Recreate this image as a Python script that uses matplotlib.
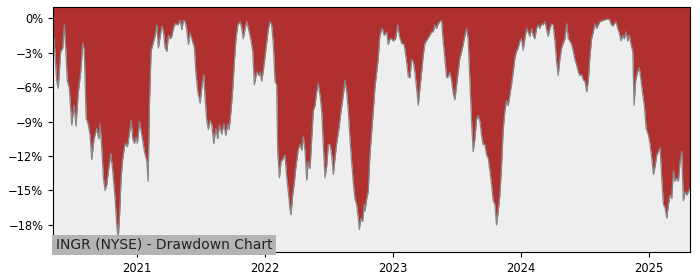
import pandas as pd
import numpy as np
import matplotlib
matplotlib.use("Agg")
import matplotlib.pyplot as plt
import matplotlib.dates as mdates
from matplotlib.ticker import FuncFormatter

# ── Data ────────────────────────────────────────────────────────────────────
# dates as decimal years, drawdown in %
years = [
    2020.344, 2020.352, 2020.373, 2020.385, 2020.404, 2020.420, 2020.432, 2020.443,
    2020.455, 2020.471, 2020.490, 2020.508, 2020.523, 2020.541, 2020.560, 2020.576,
    2020.588, 2020.602, 2020.620, 2020.633, 2020.646, 2020.664, 2020.685, 2020.701,
    2020.711, 2020.724, 2020.737, 2020.750, 2020.763, 2020.776, 2020.795, 2020.810,
    2020.828, 2020.841, 2020.852, 2020.862, 2020.875, 2020.888, 2020.906, 2020.924,
    2020.940, 2020.953, 2020.966, 2020.979, 2020.992, 2021.002, 2021.018, 2021.037,
    2021.057, 2021.076, 2021.086, 2021.096, 2021.109, 2021.127,
    2021.141, 2021.154, 2021.166, 2021.180, 2021.193, 2021.205, 2021.219, 2021.232,
    2021.245, 2021.258, 2021.271, 2021.284, 2021.297, 2021.318, 2021.336, 2021.349,
    2021.362, 2021.375, 2021.388, 2021.401, 2021.414, 2021.427, 2021.448, 2021.459,
    2021.474, 2021.492, 2021.505, 2021.521, 2021.531, 2021.545, 2021.557, 2021.570,
    2021.584, 2021.599, 2021.615, 2021.630, 2021.643, 2021.662, 2021.677, 2021.693,
    2021.709, 2021.719, 2021.734, 2021.748, 2021.760, 2021.773, 2021.787, 2021.805,
    2021.818, 2021.830, 2021.844, 2021.857, 2021.870, 2021.888, 2021.904, 2021.916,
    2021.935, 2021.953,
    2021.961, 2021.974, 2021.992, 2022.008, 2022.026, 2022.039, 2022.052, 2022.065,
    2022.078, 2022.091, 2022.099, 2022.112, 2022.125, 2022.143, 2022.156, 2022.170,
    2022.182, 2022.195, 2022.203, 2022.216, 2022.229, 2022.242, 2022.260, 2022.273,
    2022.287, 2022.299, 2022.313, 2022.326, 2022.338, 2022.352, 2022.365, 2022.377,
    2022.391, 2022.404, 2022.416, 2022.430, 2022.443, 2022.455, 2022.469, 2022.482,
    2022.495, 2022.508, 2022.521, 2022.534, 2022.547, 2022.560, 2022.578, 2022.594,
    2022.612, 2022.625, 2022.638, 2022.651, 2022.664, 2022.677, 2022.690, 2022.703,
    2022.716, 2022.729, 2022.737, 2022.750, 2022.763, 2022.776,
    2022.781, 2022.795, 2022.807, 2022.820, 2022.834, 2022.846, 2022.859, 2022.873,
    2022.885, 2022.898, 2022.916, 2022.932, 2022.951, 2022.963, 2022.977, 2022.990,
    2023.002, 2023.021, 2023.037, 2023.049, 2023.068, 2023.088, 2023.107, 2023.120,
    2023.133, 2023.146, 2023.159, 2023.172, 2023.185, 2023.198, 2023.211, 2023.224,
    2023.237, 2023.250, 2023.271, 2023.289, 2023.302, 2023.315, 2023.328, 2023.341,
    2023.354, 2023.367, 2023.380, 2023.393, 2023.406, 2023.420, 2023.432, 2023.445,
    2023.459, 2023.471, 2023.484, 2023.498, 2023.510, 2023.523, 2023.537, 2023.549,
    2023.563, 2023.576, 2023.588,
    2023.602, 2023.615, 2023.627, 2023.641, 2023.654, 2023.666, 2023.680, 2023.693,
    2023.705, 2023.719, 2023.732, 2023.745, 2023.758, 2023.771, 2023.784, 2023.797,
    2023.810, 2023.823, 2023.836, 2023.849, 2023.862, 2023.875, 2023.888, 2023.901,
    2023.914, 2023.927, 2023.940, 2023.953, 2023.966, 2023.979, 2023.992, 2024.005,
    2024.018, 2024.031, 2024.045, 2024.057, 2024.070, 2024.084, 2024.096, 2024.109,
    2024.123, 2024.135, 2024.148, 2024.162, 2024.174, 2024.188, 2024.201, 2024.213,
    2024.227, 2024.240, 2024.252, 2024.266, 2024.279, 2024.291, 2024.305, 2024.318,
    2024.330, 2024.344, 2024.357, 2024.370, 2024.383, 2024.396, 2024.409, 2024.422,
    2024.435, 2024.448,
    2024.461, 2024.474, 2024.487, 2024.500, 2024.513, 2024.526, 2024.539, 2024.552,
    2024.565, 2024.578, 2024.591, 2024.604, 2024.617, 2024.643, 2024.670, 2024.690,
    2024.703, 2024.716, 2024.729, 2024.742, 2024.755, 2024.768, 2024.781, 2024.795,
    2024.807, 2024.820, 2024.834, 2024.846, 2024.859, 2024.873, 2024.883, 2024.896,
    2024.909, 2024.924, 2024.938, 2024.951, 2024.963, 2024.977, 2024.995, 2025.008,
    2025.021, 2025.034, 2025.047, 2025.060, 2025.073, 2025.086, 2025.099, 2025.112,
    2025.125, 2025.138, 2025.151, 2025.164, 2025.177, 2025.190, 2025.203, 2025.216,
    2025.229, 2025.242, 2025.255, 2025.268, 2025.281, 2025.295, 2025.307, 2025.320,
]

drawdown = [
    -1.6, -1.8, -5.5, -6.1, -2.9, -2.6, -0.6, -2.6,
    -5.4, -6.1, -9.3, -7.6, -9.4, -6.5, -4.7, -2.2,
    -2.8, -8.7, -9.3, -10.2, -12.3, -10.5, -9.6, -10.5,
    -9.2, -11.3, -13.9, -15.0, -14.5, -13.3, -11.8, -13.3,
    -15.7, -18.0, -19.2, -17.4, -13.9, -12.2, -10.9, -11.2,
    -10.0, -8.9, -10.5, -10.9, -10.4, -10.9, -9.0, -10.2,
    -11.6, -12.5, -14.2, -7.6, -2.9, -2.1,
    -1.5, -0.6, -2.6, -1.6, -0.7, -1.1, -2.6, -2.9,
    -1.5, -1.8, -1.6, -0.9, -0.5, -0.6, -0.2, -1.0,
    -0.2, -0.3, -1.0, -2.3, -1.3, -1.8, -2.6, -4.7,
    -6.4, -7.4, -6.1, -4.9, -6.9, -9.0, -9.7, -8.9,
    -9.3, -10.9, -9.6, -10.5, -9.3, -10.1, -9.2, -10.2,
    -9.2, -9.7, -8.1, -6.1, -3.8, -1.8, -0.6, -0.3,
    -0.9, -1.8, -0.9, -0.3, -0.9, -1.8, -2.9, -5.8,
    -4.7, -5.0,
    -4.7, -5.5, -4.1, -2.6, -0.9, -0.3, -0.6, -2.3,
    -5.5, -5.8, -11.6, -13.9, -12.5, -12.2, -11.9, -13.9,
    -15.1, -16.6, -17.1, -15.4, -14.3, -12.9, -11.4, -11.0,
    -11.5, -10.3, -11.6, -14.1, -12.5, -13.1, -10.5, -8.1,
    -7.6, -6.4, -5.7, -6.7, -8.1, -10.9, -13.9, -12.9,
    -11.0, -11.0, -11.9, -13.6, -12.2, -10.9, -9.6, -8.1,
    -6.7, -5.4, -6.4, -8.1, -10.5, -12.5, -14.3, -15.7,
    -16.2, -17.4, -18.4, -17.4, -17.7, -16.2,
    -16.8, -15.7, -15.1, -11.9, -9.9, -8.1, -6.1, -4.7,
    -3.5, -1.5, -0.9, -1.5, -1.2, -2.3, -1.8, -1.8,
    -2.0, -1.8, -0.6, -1.5, -2.2, -2.3, -3.8, -5.1,
    -5.2, -3.6, -3.8, -4.7, -6.1, -7.6, -6.1, -4.7,
    -3.2, -2.2, -1.8, -1.5, -1.2, -1.2, -0.6, -0.9,
    -0.5, -0.3, -0.2, -2.0, -3.5, -5.2, -5.1, -4.7,
    -5.5, -6.5, -7.1, -5.8, -4.7, -3.5, -2.9, -2.3,
    -1.5, -0.9, -1.8,
    -5.5, -9.0, -11.6, -10.5, -8.8, -8.5, -9.0, -10.2,
    -11.0, -11.0, -11.9, -12.2, -13.3, -14.5, -15.9, -16.2,
    -18.0, -16.8, -15.4, -12.9, -9.7, -8.1, -7.2, -7.6,
    -6.7, -5.8, -4.7, -3.5, -2.9, -2.6, -2.0, -1.8,
    -2.8, -1.8, -0.9, -1.2, -1.6, -0.9, -1.5, -1.8,
    -0.9, -0.6, -0.9, -0.5, -0.6, -0.3, -1.0, -1.6,
    -0.9, -0.5, -0.6, -2.0, -3.8, -5.0, -3.5, -2.6,
    -2.2, -1.8, -0.5, -1.8, -2.0, -2.3, -2.9, -3.6,
    -4.1, -4.7,
    -5.0, -4.9, -5.4, -5.5, -6.4, -5.5, -3.3, -1.8,
    -1.2, -0.5, -0.9, -0.6, -0.3, -0.2, -0.1, -0.1,
    -0.5, -0.7, -0.5, -0.3, -0.9, -1.3, -2.0, -1.5,
    -1.8, -1.2, -2.0, -1.5, -2.3, -2.9, -7.6, -5.4,
    -4.7, -4.3, -5.5, -6.7, -7.6, -9.6, -10.2, -11.0,
    -12.2, -13.6, -12.9, -11.9, -11.6, -11.3, -13.9, -16.2,
    -16.5, -17.4, -16.2, -15.4, -15.7, -13.3, -14.2, -13.9,
    -14.2, -12.5, -11.6, -15.9, -15.1, -15.4, -15.1, -14.8,
]

y_ticks = [0, -3, -6, -9, -12, -15, -18]
x_tick_years = [2021, 2022, 2023, 2024, 2025]
title_text = "INGR (NYSE) - Drawdown Chart"


def to_date(y):
    yr = int(np.floor(y))
    start = pd.Timestamp(yr, 1, 1)
    end = pd.Timestamp(yr + 1, 1, 1)
    return start + (end - start) * (y - yr)


dates = pd.to_datetime([to_date(y) for y in years])
dd = np.array(drawdown)

# ── Figure ──────────────────────────────────────────────────────────────────
fig = plt.figure(figsize=(7, 2.8), dpi=100)
ax = fig.add_axes([53 / 700, 1 - 252 / 280, 637 / 700, 245 / 280])
ax.set_facecolor("#eeeeee")

y_top = 0.96
y_bot = -20.35
ax.fill_between(dates, dd, y_top, color="#b03030", linewidth=0)
ax.plot(dates, dd, color="#888888", linewidth=0.9)

ax.set_xlim(dates[0], dates[-1])
ax.set_ylim(y_bot, y_top)

ax.set_yticks(y_ticks)
ax.yaxis.set_major_formatter(
    FuncFormatter(lambda v, p: f"{v:.0f}%".replace("-", "\u2212")))
ax.set_xticks([pd.Timestamp(y, 1, 1) for y in x_tick_years])
ax.xaxis.set_major_formatter(mdates.DateFormatter("%Y"))
ax.tick_params(labelsize=8.3, length=3.5)

ax.text(0.004, 0.0, title_text, transform=ax.transAxes, fontsize=10,
        ha="left", va="bottom", color="#222222",
        bbox=dict(boxstyle="square,pad=0.25", facecolor="#b4b4b4",
                  edgecolor="none"))

plt.savefig("out.png", dpi=100)
